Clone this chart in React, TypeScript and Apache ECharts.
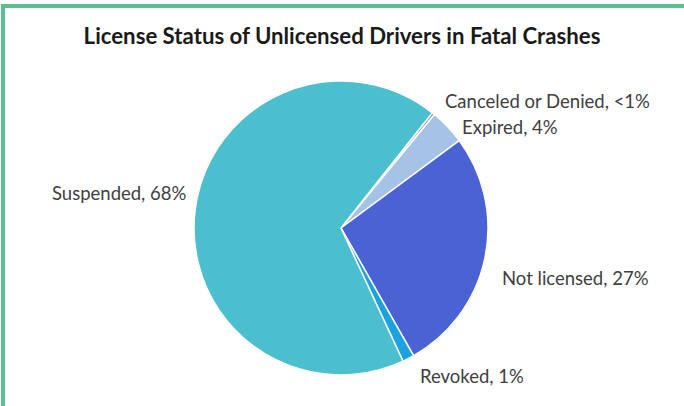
import React, { useEffect, useRef } from "react";
import * as echarts from "echarts";

const titleText = "License Status of Unlicensed Drivers in Fatal Crashes";
const categories = ["Canceled or Denied", "Expired", "Not licensed", "Revoked", "Suspended"];
const values = [0.3, 3.9, 26.9, 1.3, 67.6];
const labelTexts = ["<1%", "4%", "27%", "1%", "68%"];
const colors = ["#7d8a96", "#a4c3e6", "#4a62d4", "#1ba2df", "#4bbfce"];
const labelPos: [number, number][] = [
  [445, 101],
  [462, 127],
  [502, 278],
  [420, 376],
  [52, 193],
];

export default function App() {
  const ref = useRef<HTMLDivElement>(null);
  useEffect(() => {
    const chart = echarts.init(ref.current!, undefined, { renderer: "svg" });
    chart.setOption({
      animation: false,
      backgroundColor: "#ffffff",
      title: {
        text: titleText,
        left: "center",
        top: 19,
        textStyle: {
          fontFamily: "Lato",
          fontSize: 22.2,
          fontWeight: "bold",
          color: "#1a1a1a",
        },
      },
      graphic: [
        { type: "rect", shape: { x: 1, y: 4, width: 683, height: 4 }, style: { fill: "#5cbf93" } },
        { type: "rect", shape: { x: 1, y: 4, width: 4, height: 402 }, style: { fill: "#5cbf93" } },
      ],
      series: [
        {
          type: "pie",
          center: [341, 228],
          radius: 147,
          startAngle: 51.6,
          clockwise: true,
          avoidLabelOverlap: false,
          itemStyle: { borderColor: "#ffffff", borderWidth: 1.5 },
          label: {
            show: true,
            position: "outside",
            fontFamily: "Lato",
            fontSize: 18.5,
            color: "#404040",
            formatter: (p: any) => `${p.name}, ${labelTexts[p.dataIndex]}`,
          },
          labelLine: { show: false },
          labelLayout: (p: any) => ({
            x: labelPos[p.dataIndex][0],
            y: labelPos[p.dataIndex][1],
            align: "left",
            verticalAlign: "middle",
          }),
          data: categories.map((c, i) => ({
            name: c,
            value: values[i],
            itemStyle: { color: colors[i] },
          })),
        },
      ],
    });
    return () => chart.dispose();
  }, []);
  return (
    <div
      ref={ref}
      style={{ position: "absolute", left: 0, top: 0, width: 684, height: 406 }}
    />
  );
}
